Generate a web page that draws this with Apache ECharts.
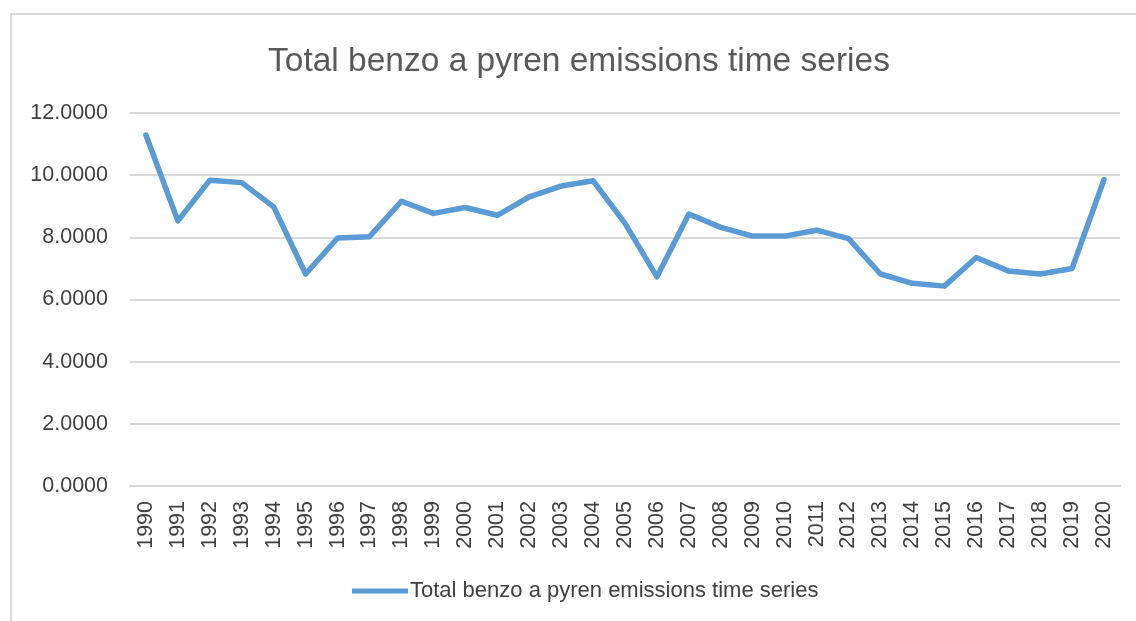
<!DOCTYPE html>
<html>
<head>
<meta charset="utf-8">
<style>
  html, body { margin: 0; padding: 0; background: #ffffff; }
  #chart { width: 1136px; height: 621px; }
</style>
<script src="https://cdn.jsdelivr.net/npm/echarts@6/dist/echarts.min.js"></script>
</head>
<body>
<div id="chart"></div>
<script>
// Years on the category axis
const years = [
  '1990','1991','1992','1993','1994','1995','1996','1997','1998','1999',
  '2000','2001','2002','2003','2004','2005','2006','2007','2008','2009',
  '2010','2011','2012','2013','2014','2015','2016','2017','2018','2019','2020'
];

// Total benzo[a]pyrene emissions per year
const emissions = [
  11.29, 8.53, 9.84, 9.76, 8.98, 6.82, 7.98, 8.02, 9.16, 8.77,
  8.96, 8.71, 9.30, 9.65, 9.82, 8.45, 6.73, 8.75, 8.32, 8.04,
  8.04, 8.23, 7.96, 6.82, 6.52, 6.43, 7.35, 6.92, 6.82, 7.00, 9.86
];

const seriesName = 'Total benzo a pyren emissions time series';
const titleText = 'Total benzo a pyren emissions time series';

const textFont = '"Liberation Sans", Arial, sans-serif';
const chart = echarts.init(document.getElementById('chart'), null, { renderer: 'canvas' });

chart.setOption({
  backgroundColor: '#ffffff',
  animation: false,
  // light frame around the chart area
  graphic: [{
    type: 'rect',
    shape: { x: 11, y: 14, width: 1140, height: 620 },
    style: { fill: 'none', stroke: '#d9d9d9', lineWidth: 2 },
    silent: true
  }],
  title: {
    text: titleText,
    left: 268,
    top: 45,
    padding: 0,
    textStyle: {
      fontFamily: textFont,
      fontSize: 33.5,
      fontWeight: 'normal',
      color: '#595959'
    }
  },
  legend: {
    bottom: 19,
    left: 352,
    padding: 0,
    itemWidth: 56,
    itemHeight: 5,
    itemGap: 0,
    textStyle: { fontFamily: textFont, fontSize: 22, color: '#404040', padding: [0, 0, 0, -3] },
    data: [{ name: seriesName, icon: 'path://M0,0 L56,0 L56,5 L0,5 Z' }]
  },
  grid: { left: 130, right: 16, top: 113, bottom: 135 },
  xAxis: {
    type: 'category',
    data: years,
    boundaryGap: true,
    axisLine: { show: true, lineStyle: { color: '#d9d9d9', width: 2 } },
    axisTick: { show: false },
    axisLabel: {
      rotate: 90,
      margin: 15,
      interval: 0,
      fontFamily: textFont,
      fontSize: 21.5,
      color: '#404040'
    }
  },
  yAxis: {
    type: 'value',
    min: 0,
    max: 12,
    interval: 2,
    axisLine: { show: false },
    axisTick: { show: false },
    splitLine: { lineStyle: { color: '#d9d9d9', width: 2 } },
    axisLabel: {
      margin: 22,
      fontFamily: textFont,
      fontSize: 21.5,
      color: '#404040',
      formatter: v => v.toFixed(4)
    }
  },
  series: [{
    name: seriesName,
    type: 'line',
    data: emissions,
    symbol: 'none',
    lineStyle: { color: '#5b9bd5', width: 5.5, cap: 'round', join: 'round' },
    itemStyle: { color: '#5b9bd5' }
  }]
});
</script>
</body>
</html>
